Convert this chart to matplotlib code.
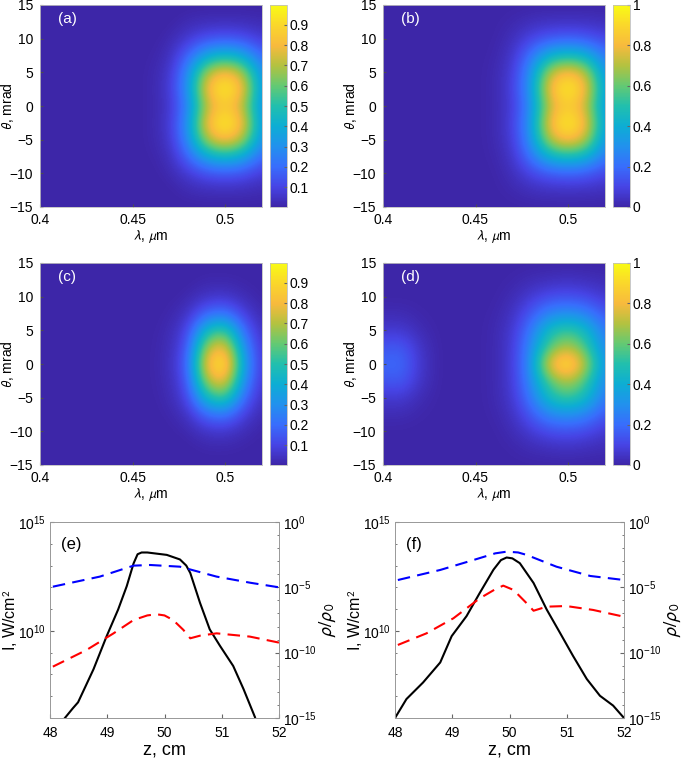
import numpy as np
import matplotlib.pyplot as plt
from matplotlib.colors import LinearSegmentedColormap

plt.rcParams['font.family'] = ['Liberation Sans', 'DejaVu Sans']
plt.rcParams['mathtext.fontset'] = 'stixsans'

# ---- heatmap data (theta >= 0 half, mirrored about theta = 0) ----
lam = [0.40, 0.41, 0.42, 0.43, 0.44, 0.45, 0.46, 0.47, 0.48, 0.49, 0.50, 0.51, 0.52]
theta_half = [0, 2.5, 5, 7.5, 10, 12.5, 15]

map_a = [
    [0, 0, 0, 0, 0, 0, 0.01, 0.05, 0.25, 0.70, 0.86, 0.70, 0.27],
    [0, 0, 0, 0, 0, 0, 0.01, 0.06, 0.30, 0.82, 1.00, 0.82, 0.30],
    [0, 0, 0, 0, 0, 0, 0.01, 0.05, 0.28, 0.70, 0.84, 0.70, 0.28],
    [0, 0, 0, 0, 0, 0, 0.005, 0.03, 0.18, 0.38, 0.45, 0.38, 0.18],
    [0, 0, 0, 0, 0, 0, 0, 0.015, 0.07, 0.13, 0.15, 0.13, 0.07],
    [0, 0, 0, 0, 0, 0, 0, 0, 0.02, 0.03, 0.03, 0.03, 0.02],
    [0, 0, 0, 0, 0, 0, 0, 0, 0, 0, 0, 0, 0],
]
map_b = [
    [0, 0, 0, 0, 0, 0, 0.01, 0.07, 0.28, 0.72, 0.87, 0.72, 0.30],
    [0, 0, 0, 0, 0, 0, 0.01, 0.08, 0.32, 0.82, 1.00, 0.82, 0.33],
    [0, 0, 0, 0, 0, 0, 0.01, 0.07, 0.30, 0.72, 0.85, 0.72, 0.30],
    [0, 0, 0, 0, 0, 0, 0.005, 0.05, 0.22, 0.42, 0.47, 0.42, 0.22],
    [0, 0, 0, 0, 0, 0, 0, 0.03, 0.10, 0.15, 0.17, 0.15, 0.10],
    [0, 0, 0, 0, 0, 0, 0, 0.01, 0.03, 0.04, 0.04, 0.04, 0.03],
    [0, 0, 0, 0, 0, 0, 0, 0, 0, 0, 0, 0, 0],
]
map_c = [
    [0, 0, 0, 0, 0, 0, 0.005, 0.03, 0.17, 0.84, 1.00, 0.36, 0.06],
    [0, 0, 0, 0, 0, 0, 0.004, 0.025, 0.14, 0.70, 0.84, 0.30, 0.05],
    [0, 0, 0, 0, 0, 0, 0.003, 0.018, 0.10, 0.46, 0.57, 0.20, 0.035],
    [0, 0, 0, 0, 0, 0, 0.001, 0.008, 0.045, 0.19, 0.23, 0.09, 0.015],
    [0, 0, 0, 0, 0, 0, 0, 0.002, 0.012, 0.05, 0.06, 0.025, 0.004],
    [0, 0, 0, 0, 0, 0, 0, 0, 0, 0.01, 0.01, 0.005, 0],
    [0, 0, 0, 0, 0, 0, 0, 0, 0, 0, 0, 0, 0],
]
map_d = [
    [0.18, 0.20, 0.06, 0, 0, 0, 0.01, 0.07, 0.30, 0.82, 1.00, 0.70, 0.30],
    [0.14, 0.16, 0.05, 0, 0, 0, 0.01, 0.07, 0.28, 0.58, 0.72, 0.55, 0.26],
    [0.06, 0.07, 0.02, 0, 0, 0, 0.01, 0.06, 0.23, 0.47, 0.55, 0.45, 0.22],
    [0.02, 0.02, 0.005, 0, 0, 0, 0.005, 0.04, 0.15, 0.27, 0.30, 0.26, 0.14],
    [0, 0, 0, 0, 0, 0, 0, 0.02, 0.07, 0.12, 0.13, 0.11, 0.06],
    [0, 0, 0, 0, 0, 0, 0, 0.005, 0.02, 0.03, 0.04, 0.03, 0.02],
    [0, 0, 0, 0, 0, 0, 0, 0, 0, 0, 0, 0, 0],
]

# ---- line data: log10 of values ----
e_z_I = [48.26, 48.40, 48.49, 48.62, 48.76, 48.99, 49.19, 49.34, 49.46, 49.53, 49.60,
         49.70, 50.04, 50.27, 50.38, 50.45, 50.62, 50.79, 50.97, 51.20, 51.38, 51.58]
e_logI = [6.0, 6.45, 6.72, 7.45, 8.24, 9.76, 10.98, 12.05, 13.10, 13.52, 13.60,
          13.60, 13.49, 13.28, 13.00, 12.66, 11.29, 10.07, 9.31, 8.39, 7.33, 6.04]
e_z_rho = [48.05, 48.87, 49.46, 49.75, 50.27, 50.91, 51.5, 52.0]
e_blue = [-4.95, -4.18, -3.34, -3.29, -3.42, -4.18, -4.65, -5.0]
e_z_ion = [48.05, 48.64, 49.11, 49.46, 49.70, 49.86, 50.00, 50.15, 50.33, 50.45,
           50.62, 50.91, 51.49, 52.0]
e_red = [-11.07, -9.79, -8.52, -7.50, -7.15, -7.06, -7.15, -7.50, -8.26, -8.90,
         -8.70, -8.52, -8.77, -9.23]

f_z_I = [48.0, 48.20, 48.49, 48.79, 48.99, 49.25, 49.48, 49.72, 49.85, 49.95, 50.05,
         50.18, 50.42, 50.65, 50.88, 51.11, 51.35, 51.58, 51.81, 52.0]
f_logI = [6.0, 6.87, 7.63, 8.55, 9.76, 10.68, 11.74, 12.81, 13.25, 13.37, 13.33,
          13.11, 12.20, 10.98, 9.92, 8.85, 7.79, 7.02, 6.57, 6.0]
f_z_rho = [48.05, 48.79, 49.37, 49.75, 49.95, 50.15, 50.30, 50.82, 51.41, 52.0]
f_blue = [-4.44, -3.67, -2.91, -2.40, -2.27, -2.33, -2.52, -3.42, -4.13, -4.44]
f_z_ion = [48.05, 48.55, 49.02, 49.48, 49.75, 49.89, 50.07, 50.30, 50.42, 50.65,
           50.99, 51.46, 52.0]
f_red = [-9.41, -8.52, -7.37, -5.84, -5.15, -4.87, -5.20, -6.22, -6.79, -6.48,
         -6.43, -6.73, -7.25]

parula = LinearSegmentedColormap.from_list('parula', [
    (0.2422, 0.1504, 0.6603), (0.2760, 0.2680, 0.9000), (0.2200, 0.4300, 0.9900),
    (0.1300, 0.5700, 0.9300), (0.0500, 0.6800, 0.8300), (0.1300, 0.7500, 0.6800),
    (0.3900, 0.7900, 0.4500), (0.7000, 0.7600, 0.2500), (0.9700, 0.7300, 0.2400),
    (0.9800, 0.8400, 0.1700), (0.9769, 0.9839, 0.0805)])

W, H = 685, 760
fig = plt.figure(figsize=(W / 100, H / 100), dpi=100)


def box(l, t, r, b):
    return [l / W, 1 - b / H, (r - l) / W, (b - t) / H]


def heat(pos, cpos, data, label, ticks):
    half = np.array(data)
    full = np.vstack([half[::-1], half[1:]])
    ax = fig.add_axes(box(*pos))
    dl = (lam[1] - lam[0]) / 2
    dt = (theta_half[1] - theta_half[0]) / 2
    if ticks[0] > 0:
        vmin, vmax = 0.003, 0.997
    else:
        vmin, vmax = 0, 1
    im = ax.imshow(full, origin='lower', aspect='auto', cmap=parula,
                   interpolation='bicubic', interpolation_stage='data',
                   vmin=vmin, vmax=vmax,
                   extent=[lam[0] - dl, lam[-1] + dl, -theta_half[-1] - dt, theta_half[-1] + dt])
    ax.set_xlim(0.4, 0.52)
    ax.set_ylim(-15, 15)
    ax.set_xticks([0.4, 0.45, 0.5])
    ax.set_xticklabels(['0.4', '0.45', '0.5'])
    ax.set_yticks([-15, -10, -5, 0, 5, 10, 15])
    ax.tick_params(direction='in', length=2, labelsize=10, color='0.3')
    ax.tick_params(axis='x', pad=4)
    ax.tick_params(axis='y', pad=5)
    for s in ax.spines.values():
        s.set_color('0.75')
        s.set_linewidth(0.6)
    ax.set_xlabel(r'$\lambda$, $\mu$m', fontsize=10, labelpad=1)
    ax.set_ylabel(r'$\theta$, mrad', fontsize=10)
    ax.yaxis.set_label_coords(-24 / 222, 0.5)
    ax.text(0.08, 0.93, label, transform=ax.transAxes, color='white', fontsize=11,
            va='center', ha='left')
    cax = fig.add_axes(box(*cpos))
    cb = fig.colorbar(im, cax=cax, ticks=ticks)
    cb.ax.tick_params(direction='in', length=2, labelsize=10, color='0.4', pad=2)
    cb.outline.set_edgecolor('0.75')
    cb.outline.set_linewidth(0.6)
    cb.ax.set_yticklabels([('%g' % t) for t in ticks])


ticks_a = [0.1, 0.2, 0.3, 0.4, 0.5, 0.6, 0.7, 0.8, 0.9]
ticks_b = [0, 0.2, 0.4, 0.6, 0.8, 1]
heat((40, 5, 262, 207), (270, 5, 287, 207), map_a, '(a)', ticks_a)
heat((383, 5, 605, 207), (613, 5, 630, 207), map_b, '(b)', ticks_b)
heat((40, 263, 262, 465), (270, 263, 287, 465), map_c, '(c)', ticks_a)
heat((383, 263, 605, 465), (613, 263, 630, 465), map_d, '(d)', ticks_b)


def lines(pos, zI, logI, zr, blue, zi, red, label):
    ax = fig.add_axes(box(*pos))
    ax2 = ax.twinx()
    ax.plot(zI, 10.0 ** np.array(logI), color='black', lw=1.5)
    ax2.plot(zr, 10.0 ** np.array(blue), color='#0000ff', lw=1.5, dashes=(6, 3.5))
    ax2.plot(zi, 10.0 ** np.array(red), color='#ff0000', lw=1.5, dashes=(6, 3.5))
    ax.set_yscale('log')
    ax2.set_yscale('log')
    ax.set_xlim(48, 52)
    ax.set_ylim(1e6, 1e15)
    ax2.set_ylim(1e-15, 1)
    ax.set_xticks([48, 49, 50, 51, 52])
    ax.set_yticks([1e10, 1e15])
    ax2.set_yticks([1e-15, 1e-10, 1e-5, 1])
    ax.set_yticks([10.0 ** k for k in range(6, 16)], minor=True)
    ax.set_yticklabels([], minor=True)
    ax2.set_yticks([10.0 ** k for k in range(-15, 1)], minor=True)
    ax2.set_yticklabels([], minor=True)
    for a in (ax, ax2):
        a.tick_params(direction='in', length=3, labelsize=10, color='0.4', pad=3)
        a.tick_params(which='minor', direction='in', length=1.5, color='0.4')
        for s in a.spines.values():
            s.set_color('0.6')
            s.set_linewidth(0.6)
    ax.tick_params(axis='x', pad=6)
    ax.set_xlabel('z, cm', fontsize=13, labelpad=1)
    ax.set_ylabel('I, W/cm$^2$', fontsize=11.5)
    ax.yaxis.set_label_coords(-30 / 229, 0.5)
    ax2.set_ylabel(r'$\rho/\rho_0$', fontsize=13.5, labelpad=1)
    ax.text(0.05, 0.885, label, transform=ax.transAxes, fontsize=12,
            va='center', ha='left')


lines((50, 522, 279, 718), e_z_I, e_logI, e_z_rho, e_blue, e_z_ion, e_red, '(e)')
lines((395, 522, 624, 718), f_z_I, f_logI, f_z_rho, f_blue, f_z_ion, f_red, '(f)')

fig.savefig('out.png', dpi=100)
